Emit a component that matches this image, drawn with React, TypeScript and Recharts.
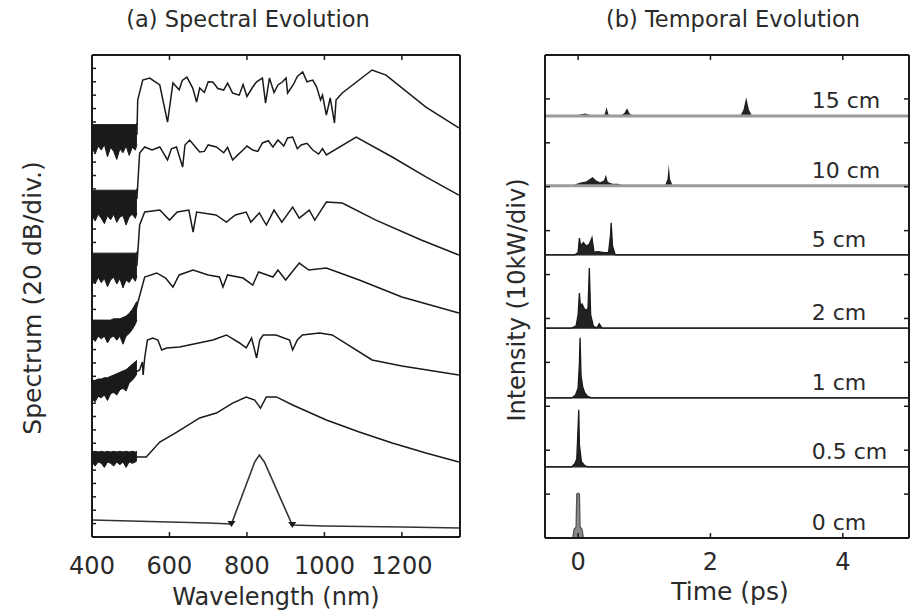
import React from 'react';
import { ComposedChart, Line, Area, XAxis, YAxis, Scatter, ReferenceLine } from 'recharts';

const FONT = '"DejaVu Sans", "Liberation Sans", sans-serif';
const INK = '#1a1a1a';
const TXT = '#2a2a2a';

// ---------- Panel (a): spectral evolution ----------
const WL_TICKS = [400, 600, 800, 1000, 1200];
const WL_TOP_TICKS = [600, 800, 1000, 1200];
const SPEC_Y_TICKS = Array.from({ length: 37 }, (_, i) => i);

const WL_0CM = [400, 500, 600, 700, 760, 820, 832, 845, 917, 1000, 1100, 1200, 1350];
const SP_0CM = [1.27, 1.19, 1.12, 1.05, 0.97, 5.6, 6.12, 5.6, 0.9, 0.82, 0.78, 0.75, 0.67];

const WL_05CM = [400, 540, 575, 619, 678, 721, 763, 798, 820, 835, 850, 876, 918, 1005, 1090, 1175, 1262, 1347];
const SP_05CM = [5.97, 5.97, 7.09, 7.84, 8.89, 9.26, 10.0, 10.46, 10.23, 9.63, 10.46, 10.46, 9.86, 8.74, 7.84, 7.02, 6.27, 5.6];

const WL_1CM = [400, 455, 498, 523, 530, 532, 536, 543, 557, 570, 580, 593, 626, 712, 747, 781, 798, 812, 825, 833, 842, 875, 910, 918, 930, 943, 987, 1020, 1123, 1200, 1347];
const SP_1CM = [11.13, 11.5, 12.1, 12.47, 13.07, 12.1, 13.37, 14.71, 14.86, 14.71, 13.97, 14.12, 14.19, 14.71, 15.09, 14.49, 14.12, 14.86, 13.37, 14.71, 15.09, 15.09, 14.71, 13.97, 14.71, 15.09, 15.24, 15.09, 13.22, 12.77, 12.1];

const WL_2CM = [400, 480, 510, 518, 536, 567, 590, 609, 625, 661, 700, 729, 738, 750, 790, 815, 830, 867, 880, 900, 935, 960, 1005, 1090, 1200, 1347];
const SP_2CM = [15.46, 15.6, 16.5, 17.48, 19.42, 19.72, 19.34, 18.67, 19.57, 19.94, 19.57, 19.42, 18.67, 19.57, 19.34, 18.82, 19.79, 19.42, 19.94, 19.19, 20.46, 19.94, 20.09, 19.19, 17.92, 16.73];

const WL_5CM = [400, 516, 523, 536, 575, 600, 620, 650, 661, 670, 720, 747, 770, 798, 810, 832, 850, 870, 890, 918, 935, 961, 975, 1005, 1046, 1133, 1250, 1347];
const SP_5CM = [20.16, 20.3, 23.3, 24.27, 24.42, 23.67, 24.27, 24.42, 22.78, 24.27, 24.05, 23.52, 24.05, 24.27, 23.52, 24.2, 23.3, 24.42, 23.52, 24.64, 23.82, 24.42, 23.67, 25.02, 24.94, 23.67, 22.18, 21.06];

const WL_10CM = [400, 516, 523, 536, 555, 575, 595, 605, 618, 634, 640, 652, 665, 678, 690, 700, 721, 740, 750, 763, 775, 790, 800, 815, 828, 840, 855, 867, 880, 895, 905, 918, 930, 940, 955, 970, 985, 995, 1005, 1082, 1175, 1262, 1347];
const SP_10CM = [25.17, 25.3, 28.68, 29.13, 28.9, 29.13, 28.16, 29.0, 29.13, 27.63, 29.28, 29.65, 29.2, 28.75, 28.8, 29.28, 29.13, 28.7, 29.1, 28.16, 28.5, 28.9, 29.2, 28.9, 28.8, 29.43, 29.6, 29.13, 29.65, 29.2, 29.8, 29.87, 29.0, 29.28, 29.4, 28.9, 28.6, 29.0, 28.53, 29.87, 28.38, 26.89, 25.54];

const WL_15CM = [400, 516, 518, 531, 549, 575, 595, 609, 625, 633, 645, 660, 670, 678, 690, 700, 712, 725, 740, 750, 763, 780, 790, 800, 815, 825, 840, 848, 858, 870, 880, 892, 901, 905, 920, 930, 944, 955, 970, 980, 990, 995, 1005, 1015, 1026, 1030, 1046, 1123, 1159, 1262, 1347];
const SP_15CM = [30.02, 30.1, 32.64, 34.13, 34.28, 33.76, 30.99, 33.91, 33.4, 34.1, 34.35, 33.53, 32.49, 33.53, 33.2, 34.0, 33.98, 33.5, 33.38, 33.9, 33.16, 33.0, 33.8, 32.9, 33.61, 34.0, 34.28, 32.41, 34.28, 33.2, 33.76, 34.0, 34.28, 33.16, 33.8, 34.4, 34.73, 34.0, 34.13, 33.6, 32.64, 33.0, 31.52, 32.79, 30.92, 32.64, 33.16, 34.88, 34.5, 32.11, 30.55];

// noisy short-wavelength floors (low / high envelope)
const NOISE_WL = [400, 408, 416, 424, 432, 440, 448, 456, 464, 472, 480, 488, 496, 504, 512, 516];
const NOISE_05_LO = [5.6, 5.3, 5.6, 5.5, 5.2, 5.6, 5.5, 5.3, 5.6, 5.4, 5.6, 5.2, 5.6, 5.5, 5.6, 5.7];
const NOISE_05_HI = [6.35, 6.4, 6.35, 6.4, 6.35, 6.4, 6.35, 6.4, 6.35, 6.4, 6.35, 6.4, 6.35, 6.4, 6.35, 6.4];
const NOISE_1_LO = [10.3, 10.1, 10.5, 10.4, 10.6, 10.2, 10.7, 10.8, 10.6, 11.0, 11.1, 10.9, 11.5, 11.7, 12.0, 12.2];
const NOISE_1_HI = [11.7, 11.7, 11.8, 11.8, 11.9, 11.9, 12.0, 12.1, 12.2, 12.3, 12.4, 12.5, 12.7, 12.9, 13.1, 13.2];
const NOISE_2_LO = [14.9, 14.6, 15.0, 14.8, 15.0, 14.5, 14.9, 15.0, 14.7, 15.0, 14.4, 15.0, 15.2, 15.5, 15.9, 16.2];
const NOISE_2_HI = [16.2, 16.2, 16.2, 16.2, 16.2, 16.2, 16.2, 16.3, 16.3, 16.3, 16.4, 16.5, 16.7, 17.0, 17.4, 17.6];
const NOISE_5_LO = [19.3, 18.9, 19.4, 19.0, 19.3, 18.7, 19.2, 19.4, 18.9, 19.3, 18.6, 19.2, 19.0, 19.4, 19.1, 19.5];
const NOISE_5_HI = [21.2, 21.2, 21.2, 21.2, 21.2, 21.2, 21.2, 21.2, 21.2, 21.2, 21.2, 21.2, 21.2, 21.2, 21.2, 21.3];
const NOISE_10_LO = [24.0, 23.6, 24.1, 23.8, 23.4, 24.0, 23.7, 24.1, 23.5, 23.9, 24.0, 23.3, 23.9, 24.1, 23.8, 24.2];
const NOISE_10_HI = [25.9, 25.9, 25.9, 25.9, 25.9, 25.9, 25.9, 25.9, 25.9, 25.9, 25.9, 25.9, 25.9, 25.9, 25.9, 26.0];
const NOISE_15_LO = [29.1, 28.6, 29.2, 28.9, 29.3, 28.4, 29.1, 28.8, 28.2, 29.0, 28.7, 29.2, 28.5, 29.1, 28.9, 29.3];
const NOISE_15_HI = [30.8, 30.8, 30.8, 30.8, 30.8, 30.8, 30.8, 30.8, 30.8, 30.8, 30.8, 30.8, 30.8, 30.8, 30.8, 30.9];

const INPUT_MARK_WL = [760, 917];
const INPUT_MARK_SP = [0.97, 0.9];

// ---------- Panel (b): temporal evolution ----------
const T_TICKS = [0, 2, 4];
const TEMP_Y_TICKS = Array.from({ length: 12 }, (_, i) => i);
const DIST_LABELS = ['0 cm', '0.5 cm', '1 cm', '2 cm', '5 cm', '10 cm', '15 cm'];
const DIST_OFFSETS = [0, 1.62, 3.19, 4.78, 6.45, 8.02, 9.61];

const T_0CM = [-0.5, -0.08, -0.06, -0.03, -0.02, 0, 0.02, 0.03, 0.06, 0.08, 5];
const I_0CM = [0, 0, 0.2, 0.25, 1.0, 1.02, 1.0, 0.25, 0.2, 0, 0];
const T_05CM = [-0.5, -0.1, -0.05, -0.02, 0, 0.01, 0.02, 0.05, 0.1, 0.15, 5];
const I_05CM = [0, 0, 0.07, 0.18, 0.9, 1.3, 0.5, 0.12, 0.03, 0, 0];
const T_1CM = [-0.5, -0.1, -0.04, 0, 0.02, 0.03, 0.045, 0.07, 0.1, 0.14, 0.2, 5];
const I_1CM = [0, 0, 0.06, 0.22, 0.8, 1.37, 0.5, 0.25, 0.12, 0.04, 0, 0];
const T_2CM = [-0.5, -0.1, -0.03, 0.0, 0.02, 0.035, 0.06, 0.09, 0.12, 0.15, 0.17, 0.19, 0.23, 0.28, 0.32, 0.36, 5];
const I_2CM = [0, 0, 0.05, 0.3, 0.8, 0.5, 0.55, 0.45, 0.4, 0.45, 1.37, 0.3, 0.05, 0, 0.1, 0, 0];
const T_5CM = [-0.5, -0.05, 0.0, 0.02, 0.04, 0.08, 0.12, 0.17, 0.21, 0.24, 0.3, 0.4, 0.46, 0.49, 0.5, 0.52, 0.56, 5];
const I_5CM = [0, 0, 0.05, 0.38, 0.2, 0.28, 0.2, 0.24, 0.39, 0.06, 0.07, 0.05, 0.05, 0.45, 0.73, 0.2, 0, 0];
const T_10CM = [-0.5, -0.08, -0.02, 0.05, 0.12, 0.18, 0.22, 0.27, 0.33, 0.39, 0.42, 0.45, 0.52, 0.6, 0.68, 1.31, 1.35, 1.37, 1.39, 1.43, 5];
const I_10CM = [0, 0, 0.05, 0.08, 0.1, 0.16, 0.2, 0.13, 0.08, 0.12, 0.25, 0.09, 0.05, 0.05, 0, 0, 0.15, 0.48, 0.15, 0, 0];
const T_15CM = [-0.5, -0.05, 0.02, 0.1, 0.2, 0.3, 0.4, 0.43, 0.46, 0.55, 0.65, 0.7, 0.74, 0.78, 0.84, 2.45, 2.5, 2.54, 2.58, 2.63, 5];
const I_15CM = [0, 0, 0.03, 0.06, 0.02, 0.0, 0.03, 0.2, 0.03, 0.02, 0.02, 0.07, 0.18, 0.05, 0, 0, 0.15, 0.43, 0.15, 0, 0];
const LABEL_T = 3.53;

// ---------- derived tables ----------
const toXY = (xs: number[], ys: number[]) => xs.map((x, i) => ({ x, y: ys[i] }));
const toBand = (xs: number[], lo: number[], hi: number[]) => xs.map((x, i) => ({ x, r: [lo[i], hi[i]] }));

const spectra = [
  toXY(WL_0CM, SP_0CM),
  toXY(WL_05CM, SP_05CM),
  toXY(WL_1CM, SP_1CM),
  toXY(WL_2CM, SP_2CM),
  toXY(WL_5CM, SP_5CM),
  toXY(WL_10CM, SP_10CM),
  toXY(WL_15CM, SP_15CM),
];
const noiseBands = [
  toBand(NOISE_WL, NOISE_05_LO, NOISE_05_HI),
  toBand(NOISE_WL, NOISE_1_LO, NOISE_1_HI),
  toBand(NOISE_WL, NOISE_2_LO, NOISE_2_HI),
  toBand(NOISE_WL, NOISE_5_LO, NOISE_5_HI),
  toBand(NOISE_WL, NOISE_10_LO, NOISE_10_HI),
  toBand(NOISE_WL, NOISE_15_LO, NOISE_15_HI),
];
const inputMarks = toXY(INPUT_MARK_WL, INPUT_MARK_SP);

const pulseT = [T_0CM, T_05CM, T_1CM, T_2CM, T_5CM, T_10CM, T_15CM];
const pulseI = [I_0CM, I_05CM, I_1CM, I_2CM, I_5CM, I_10CM, I_15CM];
const pulses = pulseT.map((ts, k) =>
  ts.map((t, i) => ({ x: t, r: [DIST_OFFSETS[k], DIST_OFFSETS[k] + pulseI[k][i]] }))
);
const labelPoints = DIST_LABELS.map((label, k) => ({ x: LABEL_T, y: DIST_OFFSETS[k] + 0.18, label }));

const LabelShape = (props: any) => (
  <text x={props.cx} y={props.cy} fontSize={22} fontFamily={FONT} fill={TXT}>
    {props.payload.label}
  </text>
);

const MarkShape = (props: any) => (
  <path d={`M${props.cx - 4},${props.cy - 3} L${props.cx + 4},${props.cy - 3} L${props.cx},${props.cy + 3} Z`} fill={INK} />
);

// inward tick marks drawn by custom tick renderers (tickSize=0, tickMargin=0 => props.x/y sit on the axis line)
const TICK_STROKE = { stroke: INK, strokeWidth: 1.5 };
const leftTick = (len: number) => (p: any) => (
  <line x1={p.x} x2={p.x + len} y1={p.y} y2={p.y} {...TICK_STROKE} />
);
const rightTick = (len: number) => (p: any) => (
  <line x1={p.x - len} x2={p.x} y1={p.y} y2={p.y} {...TICK_STROKE} />
);
const topTick = (len: number) => (p: any) => (
  <line x1={p.x} x2={p.x} y1={p.y} y2={p.y + len} {...TICK_STROKE} />
);
const bottomTick = (len: number, gap: number) => (p: any) => (
  <g>
    <line x1={p.x} x2={p.x} y1={p.y - len} y2={p.y} {...TICK_STROKE} />
    <text x={p.x} y={p.y + gap} dy="0.71em" textAnchor="middle" fontSize={24} fontFamily={FONT} fill={TXT}>
      {p.payload.value}
    </text>
  </g>
);

const axisLineStyle = { stroke: INK, strokeWidth: 2 };

export default function App() {
  return (
    <div style={{ position: 'absolute', left: 0, top: 0, width: 915, height: 611, background: '#fff' }}>
      <div style={{ position: 'absolute', left: 0, top: 0 }}>
        <ComposedChart width={480} height={611} margin={{ top: 55, right: 20, bottom: 44, left: 92 }}>
          <XAxis xAxisId="b" type="number" dataKey="x" domain={[400, 1350]} ticks={WL_TICKS} interval={0}
            allowDataOverflow orientation="bottom" height={30} tickSize={0} tickMargin={0} tickLine={false}
            tick={bottomTick(5, 20)} axisLine={axisLineStyle} />
          <XAxis xAxisId="t" type="number" dataKey="x" domain={[400, 1350]} ticks={WL_TOP_TICKS} interval={0}
            allowDataOverflow orientation="top" mirror height={10} tickSize={0} tickMargin={0} tickLine={false}
            tick={topTick(5)} axisLine={axisLineStyle} />
          <YAxis yAxisId="l" type="number" domain={[0, 36]} ticks={SPEC_Y_TICKS} interval={0} allowDataOverflow
            width={10} mirror tickSize={0} tickMargin={0} tickLine={false} tick={leftTick(4)} axisLine={axisLineStyle} />
          <YAxis yAxisId="r" orientation="right" type="number" domain={[0, 36]} allowDataOverflow width={10} mirror
            tick={false} tickLine={false} axisLine={axisLineStyle} />
          {noiseBands.map((band, i) => (
            <Area key={'n' + i} xAxisId="b" yAxisId="l" data={band} dataKey="r" type="linear" stroke={INK}
              strokeWidth={1} fill={INK} fillOpacity={1} isAnimationActive={false} />
          ))}
          {spectra.map((s, i) => (
            <Line key={'s' + i} xAxisId="b" yAxisId="l" data={s} dataKey="y" type="linear"
              stroke={i === 0 ? '#333' : INK} strokeWidth={i === 0 ? 1.6 : 1.5} dot={false} isAnimationActive={false} />
          ))}
          <Scatter xAxisId="b" yAxisId="l" data={inputMarks} dataKey="y" shape={MarkShape} isAnimationActive={false} />
        </ComposedChart>
      </div>
      <div style={{ position: 'absolute', left: 480, top: 0 }}>
        <ComposedChart width={435} height={611} margin={{ top: 55, right: 6, bottom: 43, left: 65 }}>
          <XAxis xAxisId="b" type="number" dataKey="x" domain={[-0.5, 5]} ticks={T_TICKS} interval={0}
            allowDataOverflow orientation="bottom" height={30} tickSize={0} tickMargin={0} tickLine={false}
            tick={bottomTick(5, 15)} axisLine={axisLineStyle} />
          <XAxis xAxisId="t" type="number" dataKey="x" domain={[-0.5, 5]} ticks={T_TICKS} interval={0}
            allowDataOverflow orientation="top" mirror height={10} tickSize={0} tickMargin={0} tickLine={false}
            tick={topTick(5)} axisLine={axisLineStyle} />
          <YAxis yAxisId="l" type="number" domain={[0, 11]} ticks={TEMP_Y_TICKS} interval={0} allowDataOverflow
            width={10} mirror tickSize={0} tickMargin={0} tickLine={false} tick={leftTick(5)} axisLine={axisLineStyle} />
          <YAxis yAxisId="r" orientation="right" type="number" domain={[0, 11]} ticks={TEMP_Y_TICKS} interval={0}
            allowDataOverflow width={10} mirror tickSize={0} tickMargin={0} tickLine={false} tick={rightTick(5)}
            axisLine={axisLineStyle} />
          <ReferenceLine xAxisId="b" yAxisId="l" y={DIST_OFFSETS[5]} stroke="#9a9a9a" strokeWidth={3} />
          <ReferenceLine xAxisId="b" yAxisId="l" y={DIST_OFFSETS[6]} stroke="#9a9a9a" strokeWidth={3} />
          {pulses.map((p, k) => (
            <Area key={'p' + k} xAxisId="b" yAxisId="l" data={p} dataKey="r" type="linear"
              stroke={k >= 5 ? 'none' : k === 0 ? '#555' : INK} strokeWidth={1.3}
              fill={k === 0 ? '#8a8a8a' : '#222'} fillOpacity={1} isAnimationActive={false} />
          ))}
          <Scatter xAxisId="b" yAxisId="l" data={labelPoints} dataKey="y" shape={LabelShape} isAnimationActive={false} />
        </ComposedChart>
      </div>
      <svg width={915} height={611} style={{ position: 'absolute', left: 0, top: 0, pointerEvents: 'none' }}>
        <g fontFamily={FONT} fill={TXT}>
          <text x={248} y={27} textAnchor="middle" fontSize={22.5}>(a) Spectral Evolution</text>
          <text x={733} y={27} textAnchor="middle" fontSize={22.5}>(b) Temporal Evolution</text>
          <text x={276} y={605} textAnchor="middle" fontSize={24}>Wavelength (nm)</text>
          <text x={730} y={600} textAnchor="middle" fontSize={25}>Time (ps)</text>
          <text transform="translate(41,298) rotate(-90)" textAnchor="middle" fontSize={25}>Spectrum (20 dB/div.)</text>
          <text transform="translate(525,300) rotate(-90)" textAnchor="middle" fontSize={24}>Intensity (10kW/div)</text>
        </g>
      </svg>
    </div>
  );
}
